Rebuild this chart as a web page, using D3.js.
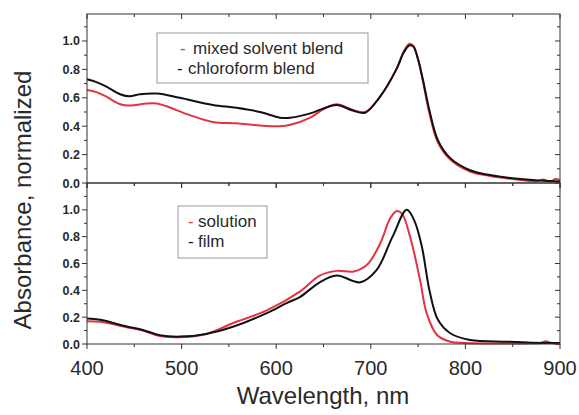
<!DOCTYPE html>
<html>
<head>
<meta charset="utf-8">
<script src="https://cdn.jsdelivr.net/npm/d3@7"></script>
<style>
  body { margin: 0; background: #fff; }
  text { font-family: "Liberation Sans", Arial, sans-serif; fill: #2a2a2a; }
</style>
</head>
<body>
<div id="chart"></div>
<script>
// top panel: blend films
var blendWl = [400, 410, 420, 435, 445, 456, 474, 498, 533, 558, 583, 604, 615, 636, 650, 664, 681, 694, 710, 727, 735, 741, 745, 750, 755, 762, 771, 784, 805, 826, 861, 900];
var chloroform = [0.73, 0.71, 0.68, 0.625, 0.61, 0.625, 0.63, 0.60, 0.55, 0.53, 0.50, 0.46, 0.46, 0.49, 0.525, 0.55, 0.51, 0.495, 0.61, 0.80, 0.92, 0.97, 0.96, 0.87, 0.73, 0.51, 0.30, 0.175, 0.09, 0.056, 0.026, 0.01];
var mixedWl = [400, 410, 420, 435, 445, 463, 474, 484, 508, 533, 558, 583, 604, 615, 636, 650, 664, 681, 694, 710, 727, 735, 741, 745, 750, 755, 762, 771, 784, 805, 826, 861, 875, 882, 890, 895, 900];
var mixed = [0.655, 0.64, 0.61, 0.555, 0.545, 0.56, 0.56, 0.54, 0.48, 0.43, 0.42, 0.405, 0.40, 0.41, 0.46, 0.52, 0.555, 0.515, 0.50, 0.61, 0.80, 0.93, 0.98, 0.965, 0.87, 0.72, 0.49, 0.285, 0.165, 0.08, 0.05, 0.02, 0.012, 0.025, 0.01, 0.028, 0.02];

// bottom panel: solution vs film
var filmWl = [400, 414, 442, 459, 477, 498, 526, 555, 590, 611, 625, 646, 664, 689, 706, 723, 738, 746, 754, 762, 771, 784, 805, 843, 870, 900];
var film = [0.19, 0.18, 0.13, 0.105, 0.065, 0.055, 0.075, 0.13, 0.23, 0.305, 0.35, 0.46, 0.51, 0.46, 0.55, 0.80, 1.0, 0.92, 0.725, 0.40, 0.18, 0.08, 0.03, 0.017, 0.01, 0.008];
var solWl = [400, 414, 442, 459, 477, 498, 526, 554, 590, 625, 646, 664, 682, 696, 710, 720, 727, 733, 741.5, 752, 759, 770, 784, 800, 870, 880, 885, 890, 900];
var solution = [0.17, 0.165, 0.125, 0.10, 0.06, 0.05, 0.075, 0.155, 0.25, 0.39, 0.51, 0.545, 0.54, 0.59, 0.75, 0.93, 0.99, 0.97, 0.80, 0.48, 0.23, 0.067, 0.017, 0.008, 0.005, 0.01, 0.02, 0.01, 0.0];

var xTicks = [400, 500, 600, 700, 800, 900];
var yTicks = [0.0, 0.2, 0.4, 0.6, 0.8, 1.0];

var W = 579, H = 415;
var left = 87, right = 560;
var red = "#e5323f", black = "#111";

var svg = d3.select("#chart").append("svg").attr("width", W).attr("height", H);

var x = d3.scaleLinear().domain([400, 900]).range([left, right]);

var panels = [
  {top: 14, bottom: 183, ymax: 1.19, labels: false,
   series: [[mixedWl, mixed, red], [blendWl, chloroform, black]],
   legend: {x: 157, y: 33, w: 211, h: 50, rows: [[red, "mixed solvent blend", 180, 193], [black, "chloroform blend", 177, 188]]}},
  {top: 183, bottom: 344, ymax: 1.2, labels: true,
   series: [[solWl, solution, red], [filmWl, film, black]],
   legend: {x: 178, y: 206, w: 89, h: 52, rows: [[red, "solution", 188, 198], [black, "film", 188, 198]]}}
];

function drawPanel(p)
{
  var y = d3.scaleLinear().domain([0, p.ymax]).range([p.bottom, p.top]);
  var g = svg.append("g");

  // curves
  p.series.forEach(function(s)
  {
    var pts = s[0].map(function(w, i) { return [w, s[1][i]]; });
    var line = d3.line().x(function(d) { return x(d[0]); }).y(function(d) { return y(d[1]); })
      .curve(d3.curveCatmullRom.alpha(0.5));
    g.append("path").attr("d", line(pts)).attr("fill", "none")
      .attr("stroke", s[2]).attr("stroke-width", 2).attr("stroke-linejoin", "round");
  });

  // frame
  g.append("rect").attr("x", left).attr("y", p.top).attr("width", right - left)
    .attr("height", p.bottom - p.top).attr("fill", "none").attr("stroke", "#333").attr("stroke-width", 1);

  // y ticks, left outward and right inward
  var yMinor = d3.range(0, 1.2001, 0.1).filter(function(v) { return v <= p.ymax; });
  yMinor.forEach(function(v, i)
  {
    var len = (i % 2 == 0) ? 5 : 3;
    g.append("line").attr("x1", left - len).attr("x2", left).attr("y1", y(v)).attr("y2", y(v))
      .attr("stroke", "#333");
    g.append("line").attr("x1", right - len).attr("x2", right).attr("y1", y(v)).attr("y2", y(v))
      .attr("stroke", "#333");
  });
  yTicks.forEach(function(v)
  {
    g.append("text").attr("x", left - 7).attr("y", y(v) + 4.5).attr("text-anchor", "end")
      .attr("font-size", 12.5).attr("font-weight", "bold").text(d3.format(".1f")(v));
  });

  // x ticks: point down on top edge and bottom edge
  d3.range(400, 901, 50).forEach(function(w, i)
  {
    var len = (i % 2 == 0) ? 5 : 3;
    g.append("line").attr("x1", x(w)).attr("x2", x(w)).attr("y1", p.top).attr("y2", p.top + len)
      .attr("stroke", "#333");
    g.append("line").attr("x1", x(w)).attr("x2", x(w)).attr("y1", p.bottom).attr("y2", p.bottom + len)
      .attr("stroke", "#333");
  });
  if (p.labels)
  {
    xTicks.forEach(function(w)
    {
      g.append("text").attr("x", x(w)).attr("y", p.bottom + 31).attr("text-anchor", "middle")
        .attr("font-size", 20).text(w);
    });
  }

  // legend
  var L = p.legend;
  g.append("rect").attr("x", L.x).attr("y", L.y).attr("width", L.w).attr("height", L.h)
    .attr("fill", "#fff").attr("stroke", "#999").attr("stroke-width", 1);
  L.rows.forEach(function(r, i)
  {
    var by = L.y + 21 + i * 20;
    g.append("text").attr("x", r[2]).attr("y", by).attr("font-size", 17)
      .style("fill", r[0]).text("-");
    g.append("text").attr("x", r[3]).attr("y", by).attr("font-size", 17).text(r[1]);
  });
}

panels.forEach(drawPanel);

svg.append("text").attr("x", 323).attr("y", 404).attr("text-anchor", "middle")
  .attr("font-size", 24).text("Wavelength, nm");
svg.append("text").attr("transform", "translate(31,200) rotate(-90)").attr("text-anchor", "middle")
  .attr("font-size", 24).text("Absorbance, normalized");
</script>
</body>
</html>
